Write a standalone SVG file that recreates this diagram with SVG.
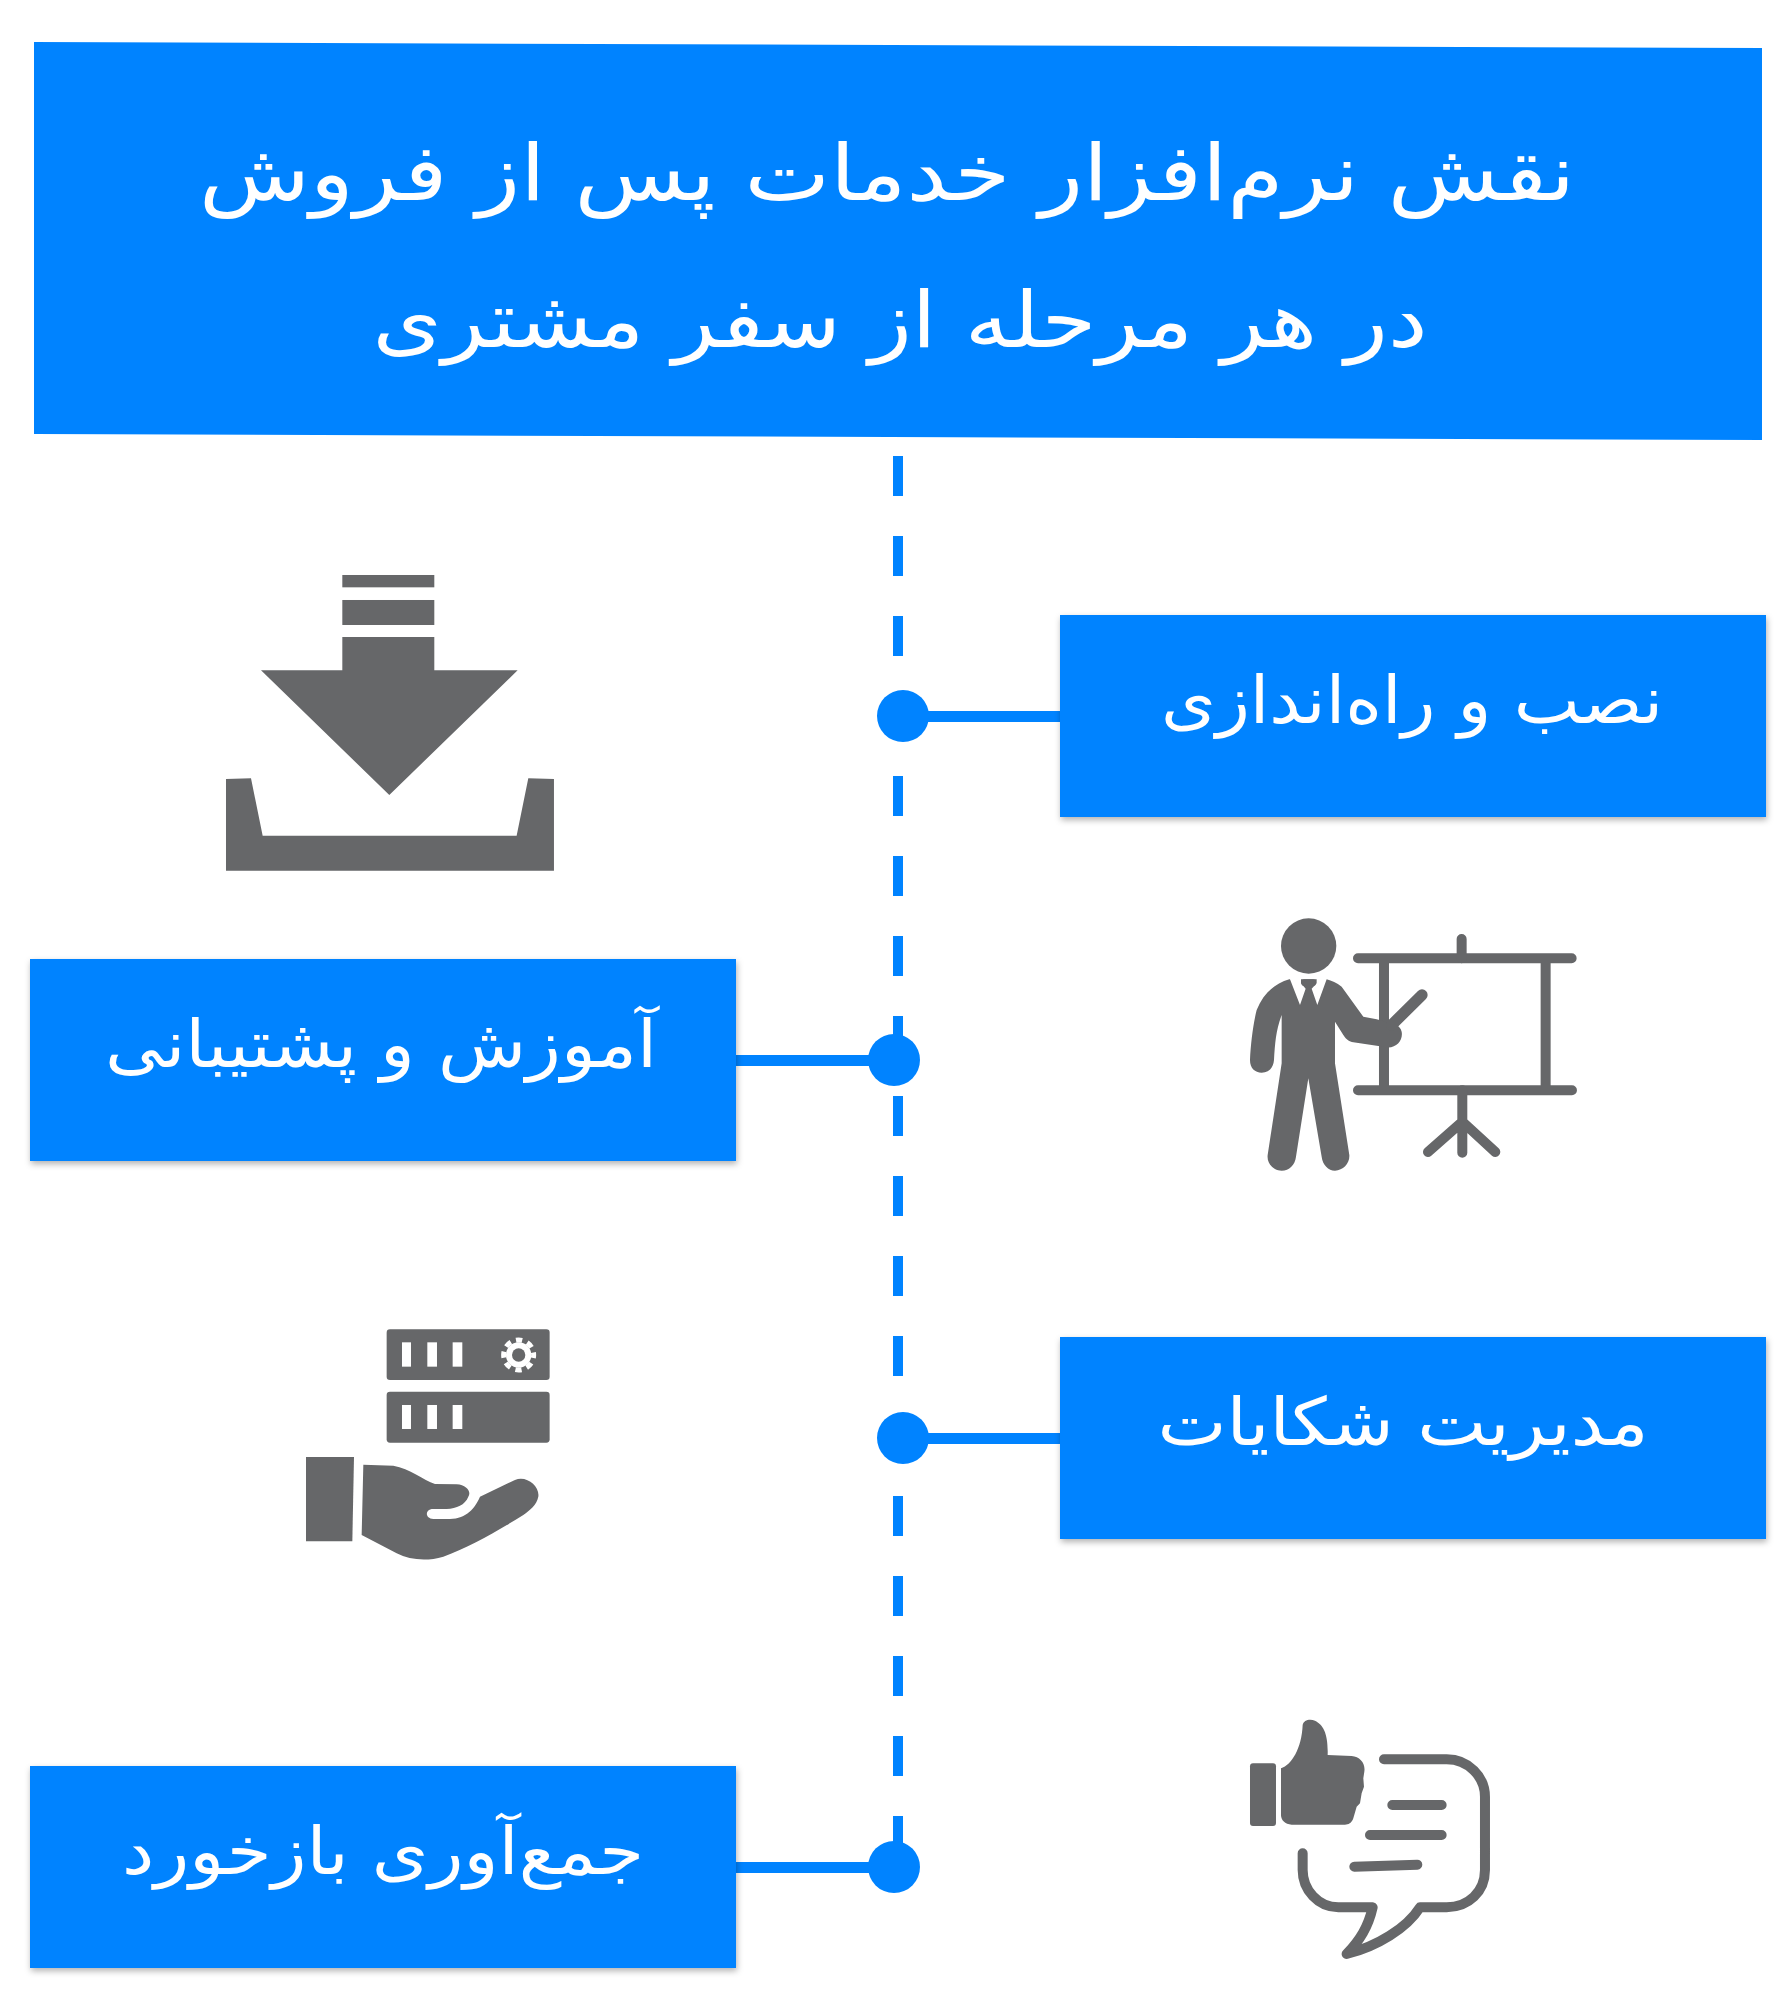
<svg xmlns="http://www.w3.org/2000/svg" width="1785" height="2012" viewBox="0 0 1785 2012">
<style>
.box{fill:#0083ff}
.t{fill:#fff;font-family:"DejaVu Sans",sans-serif;text-anchor:middle;direction:rtl}
.h{font-size:78px}
.l{font-size:66px}
.g{fill:#666769}
.gl{fill:none;stroke:#666769;stroke-linecap:round;stroke-linejoin:round}
.w{fill:#fff}
.c{fill:#0083ff}
.ln{stroke:#0083ff;stroke-width:11;fill:none}
</style>
<defs>
<filter id="sh" x="-5%" y="-10%" width="110%" height="125%"><feDropShadow dx="1" dy="3" stdDeviation="3" flood-color="#000" flood-opacity="0.3"/></filter>
</defs>
<rect width="1785" height="2012" fill="#fff"/>
<g id="connectors">
<line class="ln" style="stroke-width:10;stroke-dasharray:40 40" x1="898" y1="456" x2="898" y2="1860"/>
<line class="ln" x1="903" y1="716.500" x2="1060" y2="716.500"/>
<line class="ln" x1="736" y1="1060.500" x2="894" y2="1060.500"/>
<line class="ln" x1="903" y1="1438.500" x2="1060" y2="1438.500"/>
<line class="ln" x1="736" y1="1867.500" x2="894" y2="1867.500"/>
<circle class="c" cx="903" cy="716" r="26"/>
<circle class="c" cx="894" cy="1060" r="26"/>
<circle class="c" cx="903" cy="1438" r="26"/>
<circle class="c" cx="894" cy="1867" r="26"/>
</g>
<g id="header">
<polygon class="box" points="34,42 1762,48 1762,440 34,434"/>
<text class="t h" x="887" y="200" textLength="1376" lengthAdjust="spacingAndGlyphs">نقش نرم‌افزار خدمات پس از فروش</text>
<text class="t h" x="900" y="347" textLength="1055" lengthAdjust="spacingAndGlyphs">در هر مرحله از سفر مشتری</text>
</g>
<g id="node-install">
<rect class="box" filter="url(#sh)" x="1060" y="615" width="706" height="202"/>
<text class="t l" x="1412" y="723" textLength="502" lengthAdjust="spacingAndGlyphs">نصب و راه‌اندازی</text>
</g>
<g id="node-training">
<rect class="box" filter="url(#sh)" x="30" y="959" width="706" height="202"/>
<text class="t l" x="381" y="1067" textLength="552" lengthAdjust="spacingAndGlyphs">آموزش و پشتیبانی</text>
</g>
<g id="node-complaints">
<rect class="box" filter="url(#sh)" x="1060" y="1337" width="706" height="202"/>
<text class="t l" x="1403" y="1445" textLength="491" lengthAdjust="spacingAndGlyphs">مدیریت شکایات</text>
</g>
<g id="node-feedback">
<rect class="box" filter="url(#sh)" x="30" y="1766" width="706" height="202"/>
<text class="t l" x="383" y="1874" textLength="522" lengthAdjust="spacingAndGlyphs">جمع‌آوری بازخورد</text>
</g>
<g id="icon-download" transform="translate(180,550) scale(0.3333)">
<rect class="g" x="487" y="75" width="276" height="37"/>
<rect class="g" x="487" y="150" width="276" height="75"/>
<polygon class="g" points="487,261 763,261 763,361 1013,361 628,735 243,361 487,361"/>
<polygon class="g" points="138,687 213,685 248,857 1010,857 1045,685 1122,687 1122,962 138,962"/>
</g>
<g id="icon-training" transform="translate(1200,890) scale(0.3333)">
<circle class="g" cx="326" cy="168" r="83"/>
<path class="gl" stroke-width="30" d="M474 205H1115M474 601H1116M552 205V601M1037 205V601"/>
<path class="gl" stroke-width="30" d="M785 147V205M787 601V788M787 695L684 786M787 695L886 786"/>
<path class="g" d="M268 268C225 280 190 310 170 360C160 400 152 460 150 510C150 535 165 548 185 548C205 548 220 535 222 510C225 460 228 420 245 375V520L203 795C200 820 220 842 245 842C268 842 285 825 288 800L325 565L365 800C368 825 385 842 405 842C430 842 450 820 448 795L405 520V395L430 435C440 450 448 455 460 457L560 472C590 475 610 450 605 425C603 415 595 408 590 405L530 388L490 380L425 290C410 278 395 272 380 268Z"/>
<path class="gl" stroke-width="34" d="M575 405L666 315"/>
<polygon class="w" points="270,268 300,345 317,296 303,280 303,262 350,262 350,280 335,296 352,345 380,268 380,262 270,262"/>
<rect class="g" x="304" y="268" width="44" height="20" rx="9"/>
</g>
<g id="icon-service" transform="translate(280,1300) scale(0.3333)">
<rect class="g" x="320" y="88" width="489" height="152" rx="10"/>
<rect class="g" x="320" y="275" width="489" height="153" rx="10"/>
<g class="w">
<rect x="366" y="127" width="27" height="73"/><rect x="442" y="127" width="29" height="73"/><rect x="518" y="127" width="29" height="73"/>
<rect x="366" y="315" width="27" height="72"/><rect x="442" y="315" width="29" height="72"/><rect x="518" y="315" width="29" height="72"/>
<circle cx="716" cy="165" r="38"/>
</g>
<circle cx="716" cy="165" r="45" fill="none" stroke="#fff" stroke-width="15" stroke-dasharray="19 16.340" stroke-dashoffset="9.500"/>
<circle class="g" cx="716" cy="165" r="20"/>
<polygon class="g" points="78,471 222,471 217,724 78,724"/>
<path class="g" d="M250 494L340 497C390 505 430 540 465 552L530 553C560 555 575 575 565 590C555 615 530 625 500 627L455 627C435 630 435 655 460 657L510 657C560 655 585 625 600 590L705 540C740 525 780 560 775 590C770 615 750 630 730 645C650 695 570 740 490 770C440 785 390 780 350 760L245 705Z"/>
</g>
<g id="icon-feedback" transform="translate(1220,1690) scale(0.3333)">
<rect class="g" x="90" y="220" width="78" height="188" rx="9"/>
<path class="g" d="M183 235C215 225 245 175 248 105C250 90 270 85 285 92C310 105 325 130 323 195L395 198C420 200 437 220 433 245L430 265L432 290L425 310L420 340L410 350L400 385C395 400 385 404 375 404L215 404C195 403 183 390 183 375Z"/>
<path class="gl" stroke-width="30" d="M492 208H680C745 208 795 260 795 320V540C795 605 745 652 680 652H600C560 715 470 770 380 792C420 750 445 710 458 652H355C295 652 248 600 248 540V490"/>
<path class="gl" stroke-width="30" d="M517 345H665M450 435H665M403 530L592 524"/>
</g>
</svg>
